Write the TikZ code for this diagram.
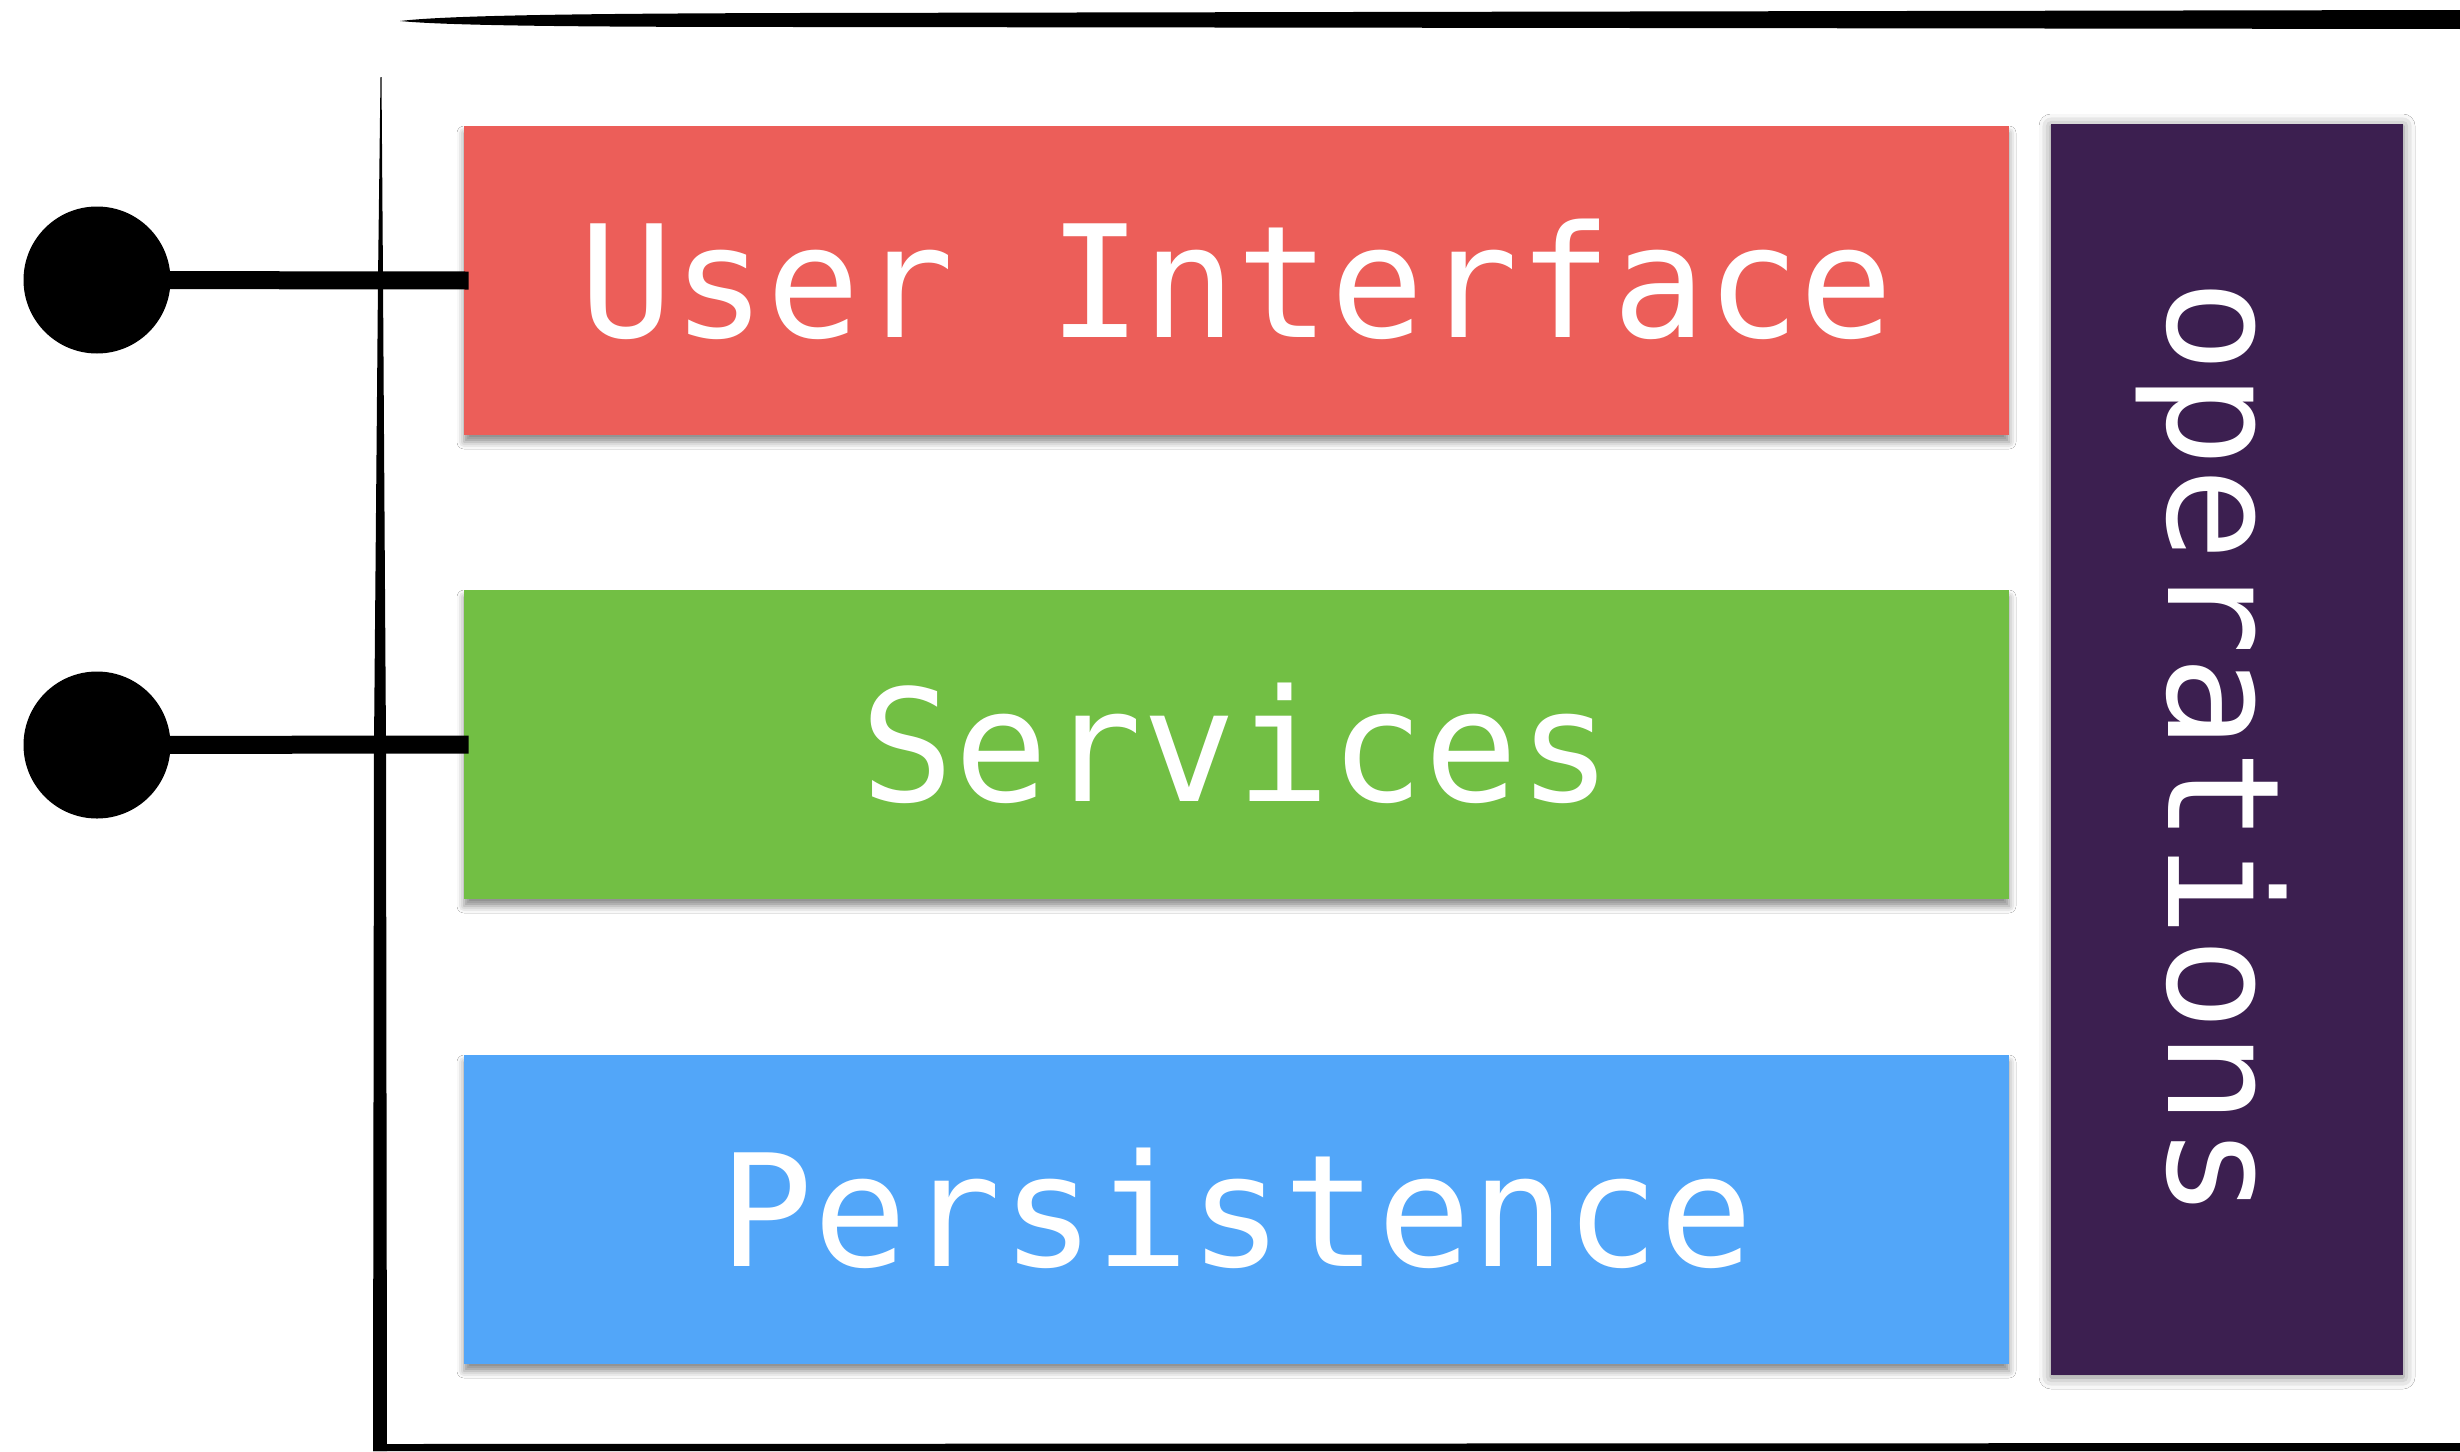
\documentclass[tikz,border=0pt]{standalone}
\usepackage{fontspec}
\newfontfamily\dmono{DejaVu Sans Mono}
\usetikzlibrary{shadows.blur}
\definecolor{uired}{HTML}{EC5E59}
\definecolor{svgreen}{HTML}{72BF44}
\definecolor{pblue}{HTML}{52A6F9}
\definecolor{opurple}{HTML}{3C1F50}
\begin{document}
\begin{tikzpicture}[x=0.5pt,y=-0.5pt,
  layerbox/.style={rectangle, inner sep=0pt, minimum width=772.5pt, minimum height=154.5pt,
    text=white, font=\dmono\fontsize{78}{90}\selectfont, text height=56.9pt, text depth=0pt,
    blur shadow={shadow xshift=0pt, shadow yshift=-3.5pt, shadow blur radius=3.5pt, shadow opacity=45}},
  opsbox/.style={rectangle, inner sep=0pt, rotate=-90, minimum width=625.5pt, minimum height=176pt,
    fill=opurple, text=white, font=\dmono\fontsize{78}{90}\selectfont, text height=70pt, text depth=11pt,
    blur shadow={shadow xshift=0pt, shadow yshift=-1pt, shadow blur radius=6pt, shadow opacity=50}},
  dot/.style={circle, fill=black, inner sep=0pt, minimum size=73.5pt},
  stick/.style={line width=9pt, black},
  frameink/.style={fill=black, draw=none}]
\useasboundingbox (0,0) rectangle (2460,1451);
\fill[white] (0,0) rectangle (2460,1451);
% sketchy frame
\path[frameink] (400,21) .. controls (450,15) and (600,13.5) .. (800,13) -- (2460,10) -- (2460,29)
  -- (800,27) .. controls (600,27) and (450,26) .. (400,21) -- cycle;
\path[frameink] (380.5,77) -- (378,280) -- (374,745) -- (373,1451) -- (387,1451) -- (386,745) -- (383,280) -- (381.5,77) -- cycle;
\path[frameink] (373,1444) -- (2460,1443) -- (2460,1451) -- (373,1451) -- cycle;
% layers
\node[layerbox, fill=uired] (ui) at (1236.5,280.5) {User Interface};
\node[layerbox, fill=svgreen] (svc) at (1236.5,744.5) {Services};
\node[layerbox, fill=pblue] (per) at (1236.5,1209.5) {Persistence};
\node[opsbox] (ops) at (2227,749.5) {operations};
% lollipops
\node[dot] (d1) at (97,280) {};
\node[dot] (d2) at (97,745) {};
\draw[stick] (d1.center) -- ([xshift=2.5pt]ui.west);
\draw[stick] (d2.center) -- ([xshift=2.5pt]svc.west);
\end{tikzpicture}
\end{document}
